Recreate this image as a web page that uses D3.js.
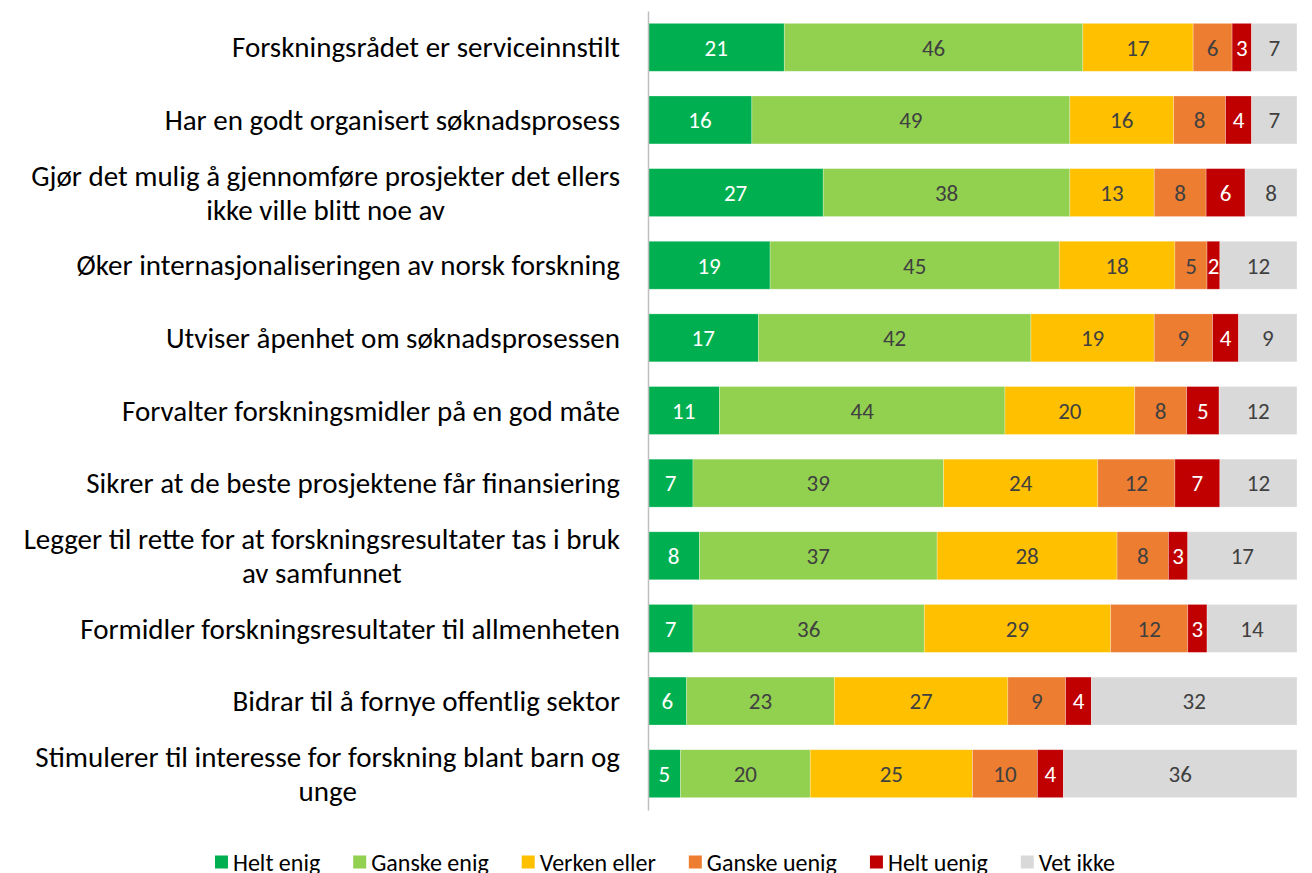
<!DOCTYPE html>
<html>
<head>
<meta charset="utf-8">
<script src="https://cdn.jsdelivr.net/npm/d3@7"></script>
<style>
  body { margin: 0; background: #fff; }
  svg { display: block; font-family: Carlito, Calibri, Lato, sans-serif; }
</style>
</head>
<body>
<div id="chart"></div>
<script>
// categories (line breaks as in the original)
const categories = [
  'Forskningsrådet er serviceinnstilt',
  'Har en godt organisert søknadsprosess',
  'Gjør det mulig å gjennomføre prosjekter det ellers\nikke ville blitt noe av',
  'Øker internasjonaliseringen av norsk forskning',
  'Utviser åpenhet om søknadsprosessen',
  'Forvalter forskningsmidler på en god måte',
  'Sikrer at de beste prosjektene får finansiering',
  'Legger til rette for at forskningsresultater tas i bruk\nav samfunnet',
  'Formidler forskningsresultater til allmenheten',
  'Bidrar til å fornye offentlig sektor',
  'Stimulerer til interesse for forskning blant barn og\nunge'
];
const seriesNames = ['Helt enig', 'Ganske enig', 'Verken eller', 'Ganske uenig', 'Helt uenig', 'Vet ikke'];
const heltEnig = [21, 16, 27, 19, 17, 11, 7, 8, 7, 6, 5];
const ganskeEnig = [46, 49, 38, 45, 42, 44, 39, 37, 36, 23, 20];
const verkenEller = [17, 16, 13, 18, 19, 20, 24, 28, 29, 27, 25];
const ganskeUenig = [6, 8, 8, 5, 9, 8, 12, 8, 12, 9, 10];
const heltUenig = [3, 4, 6, 2, 4, 5, 7, 3, 3, 4, 4];
const vetIkke = [7, 7, 8, 12, 9, 12, 12, 17, 14, 32, 36];

const seriesValues = [heltEnig, ganskeEnig, verkenEller, ganskeUenig, heltUenig, vetIkke];
const colors = ['#00B050', '#92D050', '#FFC000', '#ED7D31', '#C00000', '#D9D9D9'];
const labelColors = ['#ffffff', '#404040', '#404040', '#404040', '#ffffff', '#404040'];

const width = 1312, height = 873;
const plotLeft = 648, plotRight = 1297, plotTop = 11, plotBottom = 810;

const svg = d3.select('#chart').append('svg')
  .attr('width', width)
  .attr('height', height);

// build rows, 100% stacked (each row normalised to its own total)
const rows = categories.map((c, i) => {
  const total = d3.sum(seriesValues, (vals) => vals[i]);
  let x0 = 0;
  const segs = seriesValues.map((vals, s) => {
    const share = vals[i] / total;
    const seg = { s, v: vals[i], x0, x1: x0 + share };
    x0 += share;
    return seg;
  });
  return { cat: c, i, segs };
});

const x = d3.scaleLinear()
  .domain([0, 1])
  .range([plotLeft, plotRight]);

const y = d3.scaleBand()
  .domain(categories)
  .range([plotTop, plotBottom])
  .paddingInner(0.34)
  .paddingOuter(0.17);

// bars
const rowG = svg.selectAll('.row')
  .data(rows)
  .enter().append('g')
  .attr('class', 'row')
  .attr('transform', (d) => `translate(0, ${y(d.cat)})`);

rowG.selectAll('rect')
  .data((d) => d.segs)
  .enter().append('rect')
  .attr('x', (d) => x(d.x0))
  .attr('width', (d) => x(d.x1) - x(d.x0))
  .attr('height', y.bandwidth())
  .attr('fill', (d) => colors[d.s])
  .attr('stroke', '#ffffff')
  .attr('stroke-opacity', 0.35)
  .attr('stroke-width', 0.75);

rowG.selectAll('text')
  .data((d) => d.segs)
  .enter().append('text')
  .attr('x', (d) => (x(d.x0) + x(d.x1)) / 2)
  .attr('y', y.bandwidth() / 2)
  .attr('dy', '0.36em')
  .attr('text-anchor', 'middle')
  .attr('font-size', 23)
  .attr('fill', (d) => labelColors[d.s])
  .text((d) => d.v);

// vertical axis line
const yAxis = d3.axisLeft(y).tickSize(0).tickFormat('');
const axisG = svg.append('g')
  .attr('transform', `translate(${plotLeft}, 0)`)
  .call(yAxis);
axisG.select('.domain').attr('stroke', '#BFBFBF').attr('stroke-width', 1.5);

// category labels, right aligned block with centred lines
const labelRight = 620;
const lineHeight = 34;
svg.selectAll('.cat')
  .data(rows)
  .enter().append('text')
  .attr('class', 'cat')
  .attr('font-size', 29)
  .attr('fill', '#000')
  .each(function (d) {
    const t = d3.select(this);
    const lines = d.cat.split('\n');
    const cy = y(d.cat) + y.bandwidth() / 2;
    const startY = cy - (lines.length - 1) * lineHeight / 2;
    const spans = lines.map((ln, k) => t.append('tspan')
      .attr('y', startY + k * lineHeight)
      .attr('dy', '0.35em')
      .text(ln));
    const widths = spans.map((sp) => sp.node().getComputedTextLength());
    const maxW = d3.max(widths);
    const center = labelRight - maxW / 2;
    spans.forEach((sp) => sp.attr('x', center).attr('text-anchor', 'middle'));
  });

// legend
const legend = svg.append('g').attr('class', 'legend');
const legendY = 862;
const box = 13, gap = 5, spacing = 33;
const items = legend.selectAll('g')
  .data(seriesNames)
  .enter().append('g');
items.append('rect')
  .attr('width', box)
  .attr('height', box)
  .attr('y', legendY - box / 2)
  .attr('fill', (d, i) => colors[i]);
items.append('text')
  .attr('x', box + gap)
  .attr('y', legendY)
  .attr('dy', '0.36em')
  .attr('font-size', 24)
  .attr('fill', '#000')
  .text((d) => d);
let cursor = 0;
const offsets = [];
items.each(function () {
  offsets.push(cursor);
  cursor += this.getBBox().width + spacing;
});
const totalW = cursor - spacing;
const legendStart = 665 - totalW / 2;
items.attr('transform', (d, i) => `translate(${legendStart + offsets[i]}, 0)`);
</script>
</body>
</html>
